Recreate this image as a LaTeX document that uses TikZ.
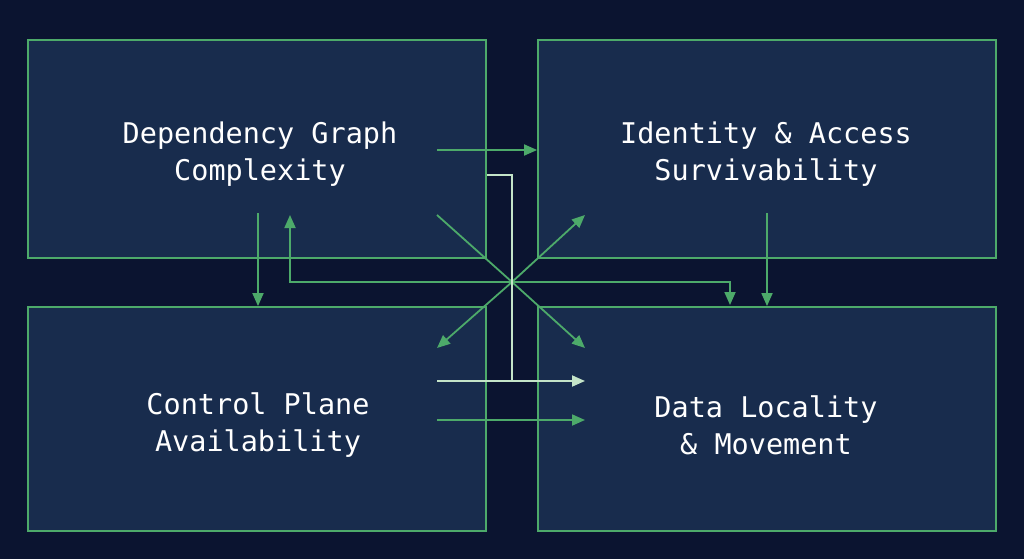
\documentclass[tikz,border=0pt]{standalone}
\usepackage{fontspec}
\setmonofont{DejaVu Sans Mono}
\usetikzlibrary{arrows.meta}
\definecolor{bgdark}{HTML}{0B1430}
\definecolor{boxfill}{HTML}{182C4D}
\definecolor{edgegreen}{HTML}{4DAA6A}
\definecolor{palegreen}{HTML}{C4E4C8}
\tikzset{
	panel/.style={draw=edgegreen,fill=boxfill,line width=1.8pt,minimum width=458pt,minimum height=218pt,
		text=white,align=center,font=\ttfamily\fontsize{28.5}{37}\selectfont},
	flow/.style={draw=edgegreen,line width=1.8pt,-{Triangle[length=13pt,width=11pt]}},
	link/.style={draw=edgegreen,line width=1.8pt}
}
\begin{document}
\begin{tikzpicture}[x=1pt,y=-1pt]
		\fill[bgdark] (0,0) rectangle (1024,559);
		\useasboundingbox (0,0) rectangle (1024,559);
		\node[panel] (DG) at (257,149) {};
		\node[panel] (IA) at (767,149) {};
		\node[panel,minimum height=224pt] (CP) at (257,419) {};
		\node[panel,minimum height=224pt] (DL) at (767,419) {};
		\node[panel,draw=none,fill=none] at (260,154) {Dependency Graph\\Complexity};
		\node[panel,draw=none,fill=none] at (766,154) {Identity \& Access\\Survivability};
		\node[panel,draw=none,fill=none] at (258,425) {Control Plane\\Availability};
		\node[panel,draw=none,fill=none] at (766,425) {Data Locality\\\& Movement};
		%
		\coordinate (hub) at (512,282);
		\coordinate (ul) at (437,215);
		\coordinate (ur) at (585,215);
		\coordinate (ll) at (437,348);
		\coordinate (lr) at (585,348);
		\coordinate (dgup) at (290,215);
		\coordinate (dlin) at (730,305);
		% diagonals
		\draw[link] (hub) -- (ul);
		\draw[flow] (hub) -- (ur);
		\draw[flow] (hub) -- (ll);
		\draw[flow] (hub) -- (lr);
		% horizontal bus
		\draw[flow] (hub) -| (dgup);
		\draw[flow] (hub) -| (dlin);
		% panel to panel
		\draw[flow] (437,150) -- (IA.west |- 0,150);
		\draw[flow] (437,420) -- (585,420);
		\draw[flow] (258,213) -- (CP.north -| 258,0);
		\draw[flow] (767,213) -- (DL.north -| 767,0);
		% pale route
		\draw[draw=palegreen,line width=1.8pt] (487,175) -- (512,175) -- (512,381);
		\draw[draw=palegreen,line width=1.8pt,-{Triangle[length=13pt,width=11pt]}] (437,381) -- (585,381);
\end{tikzpicture}
\end{document}
